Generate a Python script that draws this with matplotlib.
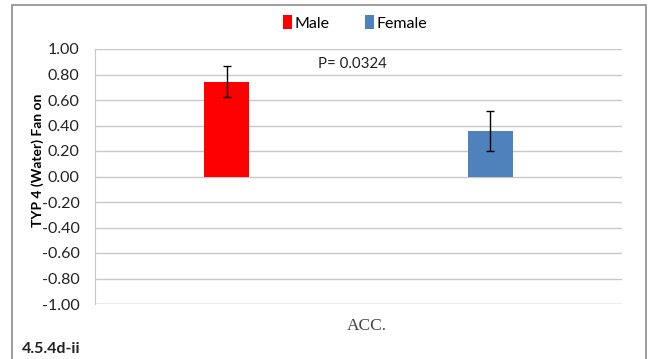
import matplotlib.pyplot as plt
import numpy as np
from matplotlib.patches import Rectangle

groups = ["Male", "Female"]
means = [0.745, 0.355]
errors = [0.118, 0.155]
colors = ["#ff0000", "#4f81bd"]
category = "ACC."
y_ticks = [-1.0, -0.8, -0.6, -0.4, -0.2, 0.0, 0.2, 0.4, 0.6, 0.8, 1.0]
p_text = "P= 0.0324"

plt.rcParams["font.family"] = ["Lato", "DejaVu Sans"]

fig = plt.figure(figsize=(6.53, 3.59), dpi=100)
ax = fig.add_axes([95 / 653, 1 - 304 / 359, (622 - 95) / 653, (304 - 49) / 359])

# outer chart frame
fig.patches.append(Rectangle((12 / 653, -0.05), (646 - 12) / 653, 1.05 - 5 / 359,
                             transform=fig.transFigure, fill=False,
                             edgecolor="#8c8c8c", linewidth=1.2))

x_pos = [-0.25, 0.25]
width = 0.085
for x, m, e, c, g in zip(x_pos, means, errors, colors, groups):
    ax.bar(x, m, width=width, color=c, label=g, zorder=3)
    ax.errorbar(x, m, yerr=e, fmt="none", ecolor="black", elinewidth=1,
                capsize=3, capthick=1, zorder=4)

ax.set_xlim(-0.5, 0.5)
ax.set_ylim(-1.0, 1.0)
ax.set_yticks(y_ticks)
ax.set_yticklabels([f"{v:.2f}" for v in y_ticks], fontsize=11.5, color="#222222")
ax.set_xticks([])
ax.grid(axis="y", color="#c8c8c8", linewidth=1, zorder=0)
ax.tick_params(axis="y", length=0, pad=11)
for side in ["top", "right", "bottom"]:
    ax.spines[side].set_visible(False)
ax.spines["left"].set_color("#c8c8c8")
ax.axhline(-1.0, color="#c8c8c8", linewidth=1, zorder=1)

ax.set_ylabel("TYP 4 (Water) Fan on", fontsize=10, fontweight="bold")
ax.yaxis.set_label_coords(-0.097, 0.565)
ax.text(-0.077, 0.88, p_text, fontsize=10.8, color="#222222", va="center")

fig.text(367 / 653, 1 - 326 / 359, category, ha="center", va="center",
         fontsize=12.5, color="#444444", family="Liberation Serif")
fig.text(22 / 653, 1 - 349 / 359, "4.5.4d-ii", ha="left", va="center",
         fontsize=11.5, fontweight="bold", color="#222222")

fig.legend(loc="center", bbox_to_anchor=(355 / 653, 1 - 23 / 359), ncol=2,
           frameon=False, fontsize=11.5, handlelength=0.6, handleheight=0.95,
           handletextpad=0.15, columnspacing=2.2)

fig.savefig("out.png", dpi=100)
